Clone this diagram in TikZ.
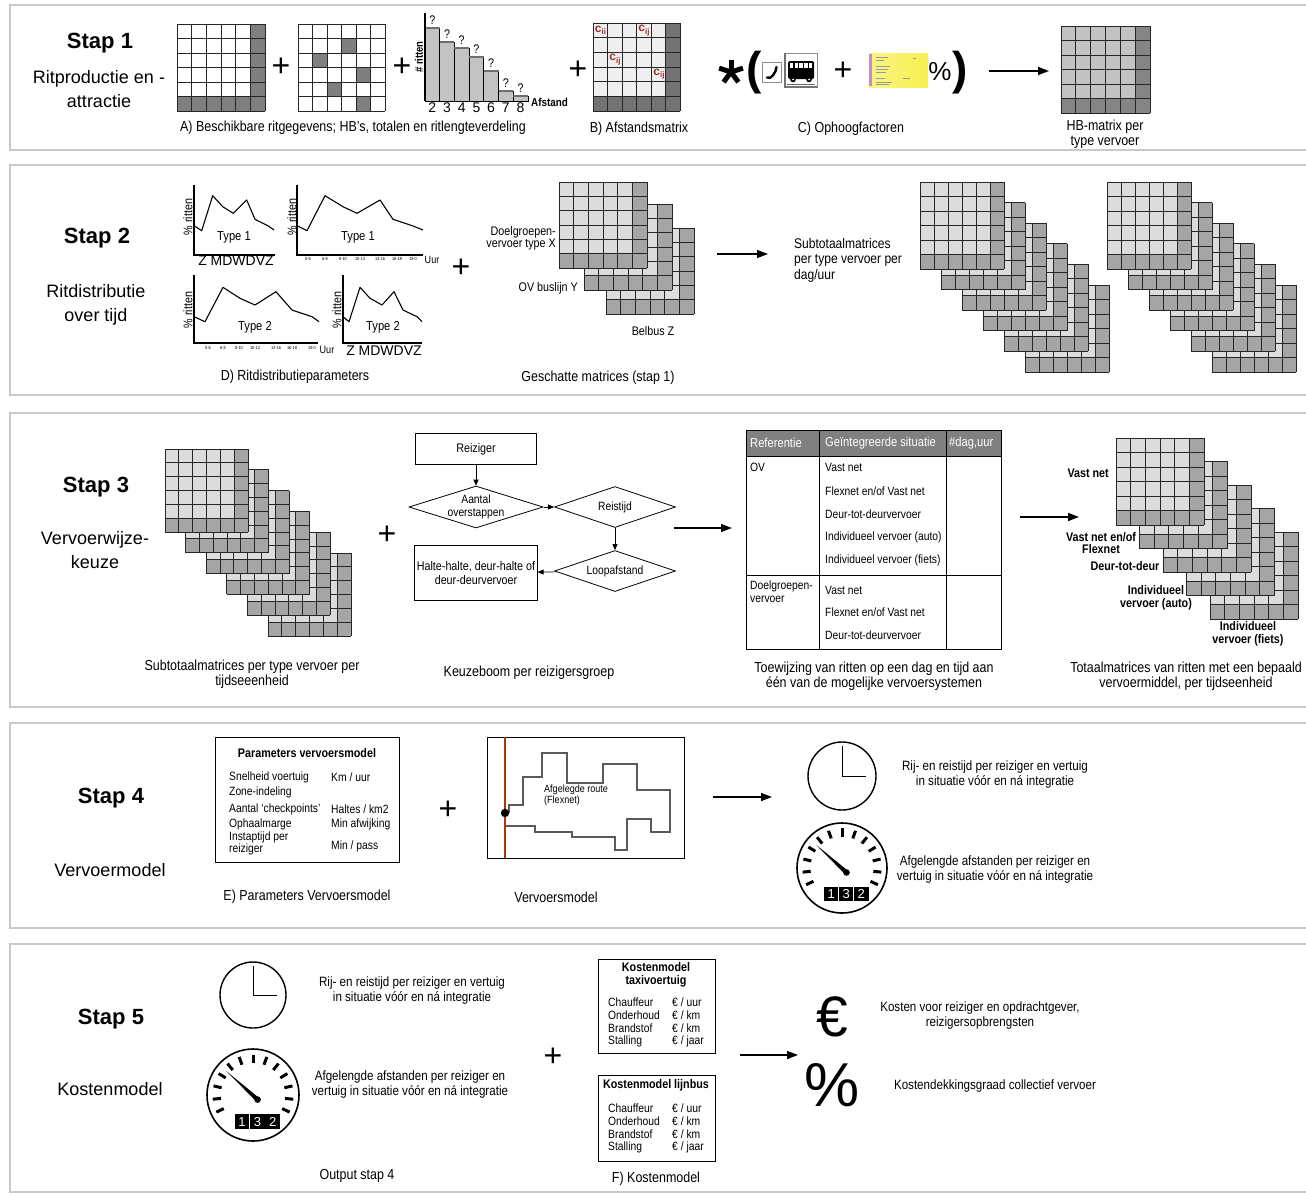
\documentclass[tikz,border=0pt]{standalone}
\usepackage{fontspec}
\setmainfont{Liberation Sans}
\newfontfamily\nar[FakeStretch=0.86]{Liberation Sans}
\usetikzlibrary{arrows.meta,shapes.geometric}

\newcommand\fsz[2]{\fontsize{#1}{#2}\selectfont}

\definecolor{framegray}{HTML}{C9C9C9}
\definecolor{celldark}{HTML}{7F7F7F}
\definecolor{celllight}{HTML}{DCDCDC}
\definecolor{cellmid}{HTML}{A5A5A5}
\definecolor{hbcell}{HTML}{C2C2C2}
\definecolor{hbdark}{HTML}{858585}
\definecolor{distcell}{HTML}{EFEFEF}
\definecolor{distdark}{HTML}{737373}
\definecolor{costred}{HTML}{A0302A}
\definecolor{barfill}{HTML}{C3C3C3}
\definecolor{barline}{HTML}{6E6E6E}
\definecolor{tablehead}{HTML}{808080}
\definecolor{routegray}{HTML}{5A5A5A}
\definecolor{railred}{HTML}{A8380E}
\definecolor{ticketyellow}{HTML}{F7F050}

\tikzset{
  panel/.style={draw=framegray, line width=1.5pt},
  stepname/.style={font=\fsz{22}{26}\bfseries, inner sep=0pt},
  stepsub/.style={font=\fsz{18}{23.5}, align=center, inner sep=0pt},
  capt/.style={font=\nar\fsz{14.5}{15.5}, align=center, inner sep=0pt},
  txt/.style={font=\nar\fsz{13.5}{15}, align=center, inner sep=0pt},
  small/.style={font=\nar\fsz{12}{13.5}, inner sep=0pt},
  tiny/.style={font=\nar\fsz{4.5}{5}, inner sep=0pt},
  plussign/.style={font=\fsz{32}{32}, inner sep=0pt},
  bigflow/.style={-{Triangle[length=11pt,width=8pt]}, line width=1.4pt},
  smallflow/.style={-{Triangle[length=6pt,width=5pt]}, line width=0.7pt},
  gridline/.style={draw=black!85, line width=1pt},
  axisline/.style={line width=1.3pt},
  trend/.style={line width=1.1pt, line join=round},
  flowbox/.style={draw, line width=0.8pt, minimum width=121pt, font=\nar\fsz{12.5}{14}, align=center, inner sep=2pt},
  flowdiamond/.style={draw, diamond, shape aspect=3.2, line width=0.8pt, minimum width=121pt, minimum height=41pt, font=\nar\fsz{12}{13}, align=center, inner sep=0pt},
  cellmark/.style={text=costred, font=\fsz{12}{12}\bfseries, inner sep=0pt},
  rowtxt/.style={font=\nar\fsz{12}{13}, anchor=west, inner sep=0pt},
  paramtxt/.style={font=\nar\fsz{12}{12.5}, anchor=west, inner sep=0pt},
  boldlab/.style={font=\nar\fsz{12.5}{12.5}\bfseries, align=center, inner sep=0pt},
}

% 6x6 trip matrix: x, y (top left), width, height, cell colour, margin colour
\newcommand\odmatrix[6]{%
  \fill[#5] (#1,#2) rectangle ++(#3,#4);
  \fill[#6] ({#1+5*#3/6},#2) rectangle ++({#3/6},#4);
  \fill[#6] (#1,{#2+5*#4/6}) rectangle ++(#3,{#4/6});
  \foreach \gk in {0,...,6}{%
    \draw[gridline] ({#1+\gk*#3/6},#2) -- ++(0,#4);
    \draw[gridline] (#1,{#2+\gk*#4/6}) -- ++(#3,0);
  }%
}

% clock: centre x, centre y, radius
\newcommand\clockface[3]{%
  \draw[line width=1.4pt] (#1,#2) circle[radius=#3];
  \draw[line width=1pt] (#1,{#2-0.88*#3}) -- (#1,#2) -- ({#1+0.72*#3},#2);
}

% speedometer with odometer: centre x, centre y, radius, name prefix
\newcommand\speedometer[4]{%
  \draw[line width=1.6pt] (#1,#2) circle[radius=#3];
  \foreach \a in {-25,-6,13,32,51,70,90,110,129,148,167,186,205}{%
    \draw[line width=3pt] ({#1+0.7*#3*cos(\a)},{#2-0.7*#3*sin(\a)}) -- ({#1+0.88*#3*cos(\a)},{#2-0.88*#3*sin(\a)});
  }%
  \fill ({#1+0.1*#3+1.5},{#2+0.1*#3-1.65}) -- ({#1+0.1*#3-1.5},{#2+0.1*#3+1.65}) -- ({#1-0.58*#3},{#2-0.52*#3}) -- cycle;
  \fill ({#1+0.1*#3},{#2+0.1*#3}) circle[radius=3.3];
  \foreach \i/\d in {0/1,1/3,2/2}{%
    \fill ({#1+0.1*#3-0.5*#3+\i*0.335*#3},{#2+0.42*#3}) rectangle ++({0.32*#3},{0.32*#3});
    \node[text=white, font=\fsz{13}{13}, inner sep=0pt] (#4\i) at ({#1+0.1*#3-0.5*#3+\i*0.335*#3+0.16*#3},{#2+0.58*#3}) {\d};
  }%
}

\begin{document}
\begin{tikzpicture}[x=1pt,y=-1pt]
\useasboundingbox (0,0) rectangle (1306,1194);
\fill[white] (0,0) rectangle (1306,1194);

% ---------- frames of the five steps ----------
\draw[panel] (10,5) rectangle (1330,150);
\draw[panel] (10,165) rectangle (1330,395);
\draw[panel] (10,413) rectangle (1330,707);
\draw[panel] (10,723) rectangle (1330,928);
\draw[panel] (10,944) rectangle (1330,1192);

% =============== Stap 1 ===============
\node[stepname] (s1) at (100,43) {Stap 1};
\node[stepsub] (s1t) at (99,89) {Ritproductie en -\\attractie};

\odmatrix{177}{24}{88}{87}{white}{celldark}
\node[plussign] (p11) at (281,67) {+};

\fill[white] (298,24) rectangle ++(87,87);
\foreach \cc/\rr in {3/1,1/2,4/3,2/4,4/5}
  \fill[celldark] ({298+\cc*14.5},{24+\rr*14.5}) rectangle ++(14.5,14.5);
\foreach \k in {0,...,6}{%
  \draw[gridline] ({298+\k*14.5},24) -- ++(0,87);
  \draw[gridline] (298,{24+\k*14.5}) -- ++(87,0);
}
\node[plussign] (p12) at (402,67) {+};

% trip length distribution
\foreach \i/\t/\l in {0/28/2,1/42/3,2/48/4,3/57/5,4/71/6,5/91/7,6/96/8}{%
  \filldraw[fill=barfill, draw=black, line width=0.8pt] ({425+\i*14.7},\t) rectangle ++(14.7,{101-\t});
  \draw[barline, line width=1.5pt] ({425+\i*14.7},\t) -- ++(14.7,0);
  \node[font=\nar\fsz{12.5}{12.5}, inner sep=0pt] (q\i) at ({432.3+\i*14.7},{\t-8}) {?};
  \node[font=\fsz{14}{14}, inner sep=0pt] (d\i) at ({432.3+\i*14.7},108) {\l};
}
\draw[axisline] (425,13) -- (425,101);
\node[rotate=90, font=\nar\fsz{11}{12}\bfseries, inner sep=0pt] (hy) at (419,57) {\# ritten};
\node[anchor=west, font=\nar\fsz{11.5}{12}\bfseries, inner sep=0pt] (hx) at (531,102) {Afstand};
\node[capt] (capA) at (353,128) {A) Beschikbare ritgegevens; HB’s, totalen en ritlengteverdeling};

\node[plussign] (p13) at (578,70) {+};

% distance matrix
\odmatrix{593}{23}{87}{88}{distcell}{distdark}
\node[cellmark] (c1) at (600.5,30.5) {c\raisebox{-2.5pt}{\fsz{8}{8}ii}};
\node[cellmark] (c2) at (644,30.5) {c\raisebox{-2.5pt}{\fsz{8}{8}ij}};
\node[cellmark] (c3) at (615,59.5) {c\raisebox{-2.5pt}{\fsz{8}{8}ij}};
\node[cellmark] (c4) at (659,74) {c\raisebox{-2.5pt}{\fsz{8}{8}ij}};
\node[capt] (capB) at (639,129) {B) Afstandsmatrix};

% growth factors
\foreach \ang in {90,162,234,306,18}
  \draw[line width=5pt] (731,72) -- ++({12.5*cos(\ang)},{-12.5*sin(\ang)});
\node[font=\fsz{46}{50}\bfseries, inner sep=0pt] (lpar) at (754,73) {(};
\draw[black!45, line width=0.6pt] (762,62) rectangle (781,82);
\draw[line width=2.4pt, line cap=round] (767,77.5) .. controls (770.5,80.5) and (776.5,72) .. (776.5,67);
\draw[black!45, line width=0.6pt] (784,53) rectangle (817,87);
\draw[black!55, line width=1.4pt] (785,53) -- (785,87) -- (817,87);
\fill[rounded corners=1.5pt] (788,61) rectangle (814,79);
\foreach \w in {0,...,4}
  \fill[white] ({790+\w*4.7},63) rectangle ++(3.4,4.5);
\fill (793,79.5) circle[radius=2.8];
\fill (809,79.5) circle[radius=2.8];
\fill[white] (793,79.5) circle[radius=1];
\fill[white] (809,79.5) circle[radius=1];
\draw[black!60, line width=0.6pt] (787,84) -- (815,84);
\node[plussign] (p14) at (843,71) {+};
\shade[left color=ticketyellow!70!white, right color=ticketyellow] (869,53) rectangle (928,87);
\fill[violet!45] (869,54) rectangle (871.5,86);
\foreach \yy/\ln in {57/12,60/8,66/14,69/12,72/10,78/9,82/16,84/13}
  \draw[black!40, line width=0.5pt] (876,\yy) -- ++(\ln,0);
\draw[black!40, line width=0.5pt] (913,58) -- (916,58);
\draw[black!40, line width=0.5pt] (903,78) -- (910,78);
\node[font=\fsz{26}{28}, inner sep=0pt] (pct1) at (940,72) {\%};
\node[font=\fsz{46}{50}\bfseries, inner sep=0pt] (rpar) at (960,73) {)};
\node[capt] (capC) at (851,129) {C) Ophoogfactoren};

\coordinate (a1s) at (989,71);
\coordinate (a1e) at (1049,71);
\draw[bigflow] (a1s) -- (a1e);

\odmatrix{1061}{26}{89}{87}{hbcell}{hbdark}
\node[capt] (capHB) at (1105,134) {HB-matrix per\\type vervoer};

% =============== Stap 2 ===============
\node[stepname] (s2) at (97,238) {Stap 2};
\node[stepsub] (s2t) at (96,305) {Ritdistributie\\over tijd};

% distribution over the week and over the day
\draw[axisline] (194,185) -- (194,255) -- (275,255);
\draw[trend] (194,225.7) -- (201.7,230.7) -- (212.7,195.7) -- (222.7,206.7) -- (233.3,213.3) -- (246.7,200) -- (255,219.3) -- (268.3,226) -- (274,230);
\node[rotate=90, font=\nar\fsz{12.5}{12}, inner sep=0pt] (g1y) at (188,217) {\% ritten};
\node[font=\nar\fsz{13}{12}, inner sep=0pt] (g1t) at (234,237) {Type 1};
\node[font=\fsz{14}{14}, inner sep=0pt] (g1x) at (236,261) {Z MDWDVZ};

\draw[axisline] (297,185) -- (297,255) -- (423,255);
\draw[trend] (297,225.7) -- (307,230.7) -- (325,195.7) -- (343,206.7) -- (357,213.3) -- (380,200) -- (393,219.3) -- (413,226) -- (423,230);
\node[rotate=90, font=\nar\fsz{12.5}{12}, inner sep=0pt] (g2y) at (292,217) {\% ritten};
\node[font=\nar\fsz{13}{12}, inner sep=0pt] (g2t) at (358,237) {Type 1};
\foreach \xx/\hh [count=\n] in {308/0-6,325/6-8,343/8-10,360/10-13,380/13-16,397/16-18,413/18-0}
  \node[tiny] (g2h\n) at (\xx,259) {\hh};
\node[font=\nar\fsz{10.5}{10}, inner sep=0pt] (g2u) at (432,260) {Uur};

\draw[axisline] (194,275) -- (194,343) -- (318,343);
\draw[trend] (194,316.7) -- (205,321.7) -- (223,287.3) -- (240,298.3) -- (255,305) -- (276,291.7) -- (292,310) -- (312,316.7) -- (319,321.7);
\node[rotate=90, font=\nar\fsz{12.5}{12}, inner sep=0pt] (g3y) at (188,310) {\% ritten};
\node[font=\nar\fsz{13}{12}, inner sep=0pt] (g3t) at (255,327) {Type 2};
\foreach \xx/\hh [count=\n] in {208/0-6,223/6-8,239/8-10,255/10-13,276/13-16,292/16-18,312/18-0}
  \node[tiny] (g3h\n) at (\xx,348) {\hh};
\node[font=\nar\fsz{10.5}{10}, inner sep=0pt] (g3u) at (327,350) {Uur};

\draw[axisline] (343,275) -- (343,343) -- (422,343);
\draw[trend] (343,316.7) -- (349,321.7) -- (360,287.3) -- (370,298.3) -- (382,305) -- (394,291.7) -- (403,310) -- (417,316.7) -- (422,321.7);
\node[rotate=90, font=\nar\fsz{12.5}{12}, inner sep=0pt] (g4y) at (337,310) {\% ritten};
\node[font=\nar\fsz{13}{12}, inner sep=0pt] (g4t) at (383,327) {Type 2};
\node[font=\fsz{14}{14}, inner sep=0pt] (g4x) at (384,351) {Z MDWDVZ};

\node[capt] (capD) at (295,377) {D) Ritdistributieparameters};

\node[plussign] (p21) at (461,268) {+};

% estimated matrices from step 1
\odmatrix{606}{228}{88}{86}{celllight}{cellmid}
\odmatrix{584}{204}{88}{86}{celllight}{cellmid}
\odmatrix{559}{182}{88}{86}{celllight}{cellmid}
\node[font=\nar\fsz{12.5}{12}, inner sep=0pt, anchor=east, align=right] (lx) at (556,238) {Doelgroepen-\\vervoer type X};
\node[font=\nar\fsz{12.5}{12}, inner sep=0pt, anchor=east] (ly) at (578,288) {OV buslijn Y};
\node[font=\nar\fsz{12.5}{12}, inner sep=0pt] (lz) at (653,331) {Belbus Z};
\node[capt] (capE2) at (598,378) {Geschatte matrices (stap 1)};

\coordinate (a2s) at (717,254);
\coordinate (a2e) at (768,254);
\draw[bigflow] (a2s) -- (a2e);
\node[txt, font=\nar\fsz{14}{15.5}, anchor=north west, align=left] (sub2) at (794,238) {Subtotaalmatrices\\per type vervoer per\\dag/uur};

% subtotal matrices per day and per hour
\foreach \sk in {5,4,...,0}{%
  \odmatrix{920+21*\sk}{182+20.6*\sk}{84}{87}{celllight}{cellmid}
}
\foreach \sk in {5,4,...,0}{%
  \odmatrix{1107+21*\sk}{182+20.6*\sk}{84}{87}{celllight}{cellmid}
}

% =============== Stap 3 ===============
\node[stepname] (s3) at (96,487) {Stap 3};
\node[stepsub] (s3t) at (95,550) {Vervoerwijze-\\keuze};

\foreach \sk in {5,4,...,0}{%
  \odmatrix{165+20.6*\sk}{449+20.8*\sk}{83}{83}{celllight}{cellmid}
}
\node[capt] (capS3a) at (252,674) {Subtotaalmatrices per type vervoer per\\tijdseeenheid};

\node[plussign] (p31) at (387,535) {+};

% choice tree per group of travellers
\node[flowbox, minimum height=31pt] (reiziger) at (476,449) {Reiziger};
\node[flowdiamond] (aantal) at (476,507) {Aantal\\overstappen};
\node[flowdiamond] (reistijd) at (615,507) {Reistijd};
\node[flowdiamond] (loop) at (615,571) {Loopafstand};
\node[flowbox, minimum height=55pt] (halte) at (476,573) {Halte-halte, deur-halte of\\deur-deurvervoer};
\draw[smallflow] (reiziger) -- (aantal);
\draw[smallflow] (aantal) -- (reistijd);
\draw[smallflow] (reistijd) -- (loop);
\draw[smallflow] (loop) -- (halte);
\node[capt] (capS3b) at (529,673) {Keuzeboom per reizigersgroep};

\coordinate (a3s) at (674,528);
\coordinate (a3e) at (732,528);
\draw[bigflow] (a3s) -- (a3e);

% assignment table
\fill[tablehead] (746,430) rectangle (1001,456);
\draw[line width=0.9pt] (746,430) rectangle (1001,649);
\draw[line width=0.9pt] (819,430) -- (819,649);
\draw[line width=0.9pt] (946,430) -- (946,649);
\draw[line width=0.9pt] (746,575) -- (1001,575);
\draw[line width=0.9pt] (746,456) -- (1001,456);
\node[rowtxt, font=\nar\fsz{13}{13}, text=white] (th1) at (750,443) {Referentie};
\node[rowtxt, font=\nar\fsz{13}{13}, text=white] (th2) at (825,443) {Geïntegreerde situatie};
\node[rowtxt, font=\nar\fsz{13}{13}, text=white] (th3) at (949,443) {\#dag,uur};
\node[rowtxt] (tov) at (750,467) {OV};
\node[rowtxt, anchor=north west, align=left] (tdg) at (750,581) {Doelgroepen-\\vervoer};
\node[rowtxt] (tr1) at (825,467) {Vast net};
\node[rowtxt] (tr2) at (825,491) {Flexnet en/of Vast net};
\node[rowtxt] (tr3) at (825,514) {Deur-tot-deurvervoer};
\node[rowtxt] (tr4) at (825,537) {Individueel vervoer (auto)};
\node[rowtxt] (tr5) at (825,560) {Individueel vervoer (fiets)};
\node[rowtxt] (tr6) at (825,590) {Vast net};
\node[rowtxt] (tr7) at (825,612) {Flexnet en/of Vast net};
\node[rowtxt] (tr8) at (825,635) {Deur-tot-deurvervoer};
\node[capt] (capS3c) at (874,676) {Toewijzing van ritten op een dag en tijd aan\\één van de mogelijke vervoersystemen};

\coordinate (a4s) at (1020,517);
\coordinate (a4e) at (1079,517);
\draw[bigflow] (a4s) -- (a4e);

% total matrices per mode
\foreach \sk in {4,3,...,0}{%
  \odmatrix{1116+23.5*\sk}{438+23.5*\sk}{88}{87}{celllight}{cellmid}
}
\node[boldlab, anchor=east] (m1) at (1109,473) {Vast net};
\node[boldlab] (m2) at (1101,543) {Vast net en/of\\Flexnet};
\node[boldlab] (m3) at (1125,566) {Deur-tot-deur};
\node[boldlab] (m4) at (1156,598) {Individueel\\vervoer (auto)};
\node[boldlab] (m5) at (1248,634) {Individueel\\vervoer (fiets)};
\node[capt] (capS3d) at (1186,676) {Totaalmatrices van ritten met een bepaald\\vervoermiddel, per tijdseenheid};

% =============== Stap 4 ===============
\node[stepname] (s4) at (111,798) {Stap 4};
\node[stepsub] (s4t) at (110,870) {Vervoermodel};

\draw[line width=1pt] (215,737) rectangle (399,862);
\node[font=\nar\fsz{12.5}{13}\bfseries, inner sep=0pt] (pt) at (307,753) {Parameters vervoersmodel};
\node[paramtxt] (pl1) at (229,777) {Snelheid voertuig};
\node[paramtxt] (pl2) at (229,792) {Zone-indeling};
\node[paramtxt] (pl3) at (229,809) {Aantal ‘checkpoints’};
\node[paramtxt] (pl4) at (229,824) {Ophaalmarge};
\node[paramtxt, align=left] (pl5) at (229,843.5) {Instaptijd per\\reiziger};
\node[paramtxt] (pr1) at (331,777) {Km / uur};
\node[paramtxt] (pr3) at (331,809) {Haltes / km2};
\node[paramtxt] (pr4) at (331,824) {Min afwijking};
\node[paramtxt] (pr5) at (331,846) {Min / pass};
\node[capt] (capE) at (307,897) {E) Parameters Vervoersmodel};

\node[plussign] (p41) at (448,810) {+};

% model area with the driven route
\draw[line width=1pt] (487,737) rectangle (684,858);
\draw[routegray, line width=1.2pt] (509,813) -- (509,805) -- (523,805) -- (523,777) -- (542,777) -- (542,753) -- (567,753) -- (567,783) -- (603,783) -- (603,764) -- (637,764) -- (637,790) -- (670,790) -- (670,832) -- (651,832) -- (651,819) -- (627,819) -- (627,850) -- (615,850) -- (615,837) -- (572,837) -- (572,832) -- (535,832) -- (535,826) -- (505,826);
\draw[railred, line width=1.6pt] (505,737) -- (505,858);
\fill (505,813) circle[radius=4.2];
\node[font=\nar\fsz{10.5}{11}, anchor=north west, align=left, inner sep=0pt] (route) at (544,785) {Afgelegde route\\(Flexnet)};
\node[capt] (capVM) at (556,897) {Vervoersmodel};

\coordinate (a5s) at (713,797);
\coordinate (a5e) at (772,797);
\draw[bigflow] (a5s) -- (a5e);

\clockface{842}{776}{34}
\node[txt] (o41) at (995,774.5) {Rij- en reistijd per reiziger en vertuig\\in situatie vóór en ná integratie};
\speedometer{842}{868}{45}{od4}
\node[txt] (o42) at (995,869.5) {Afgelengde afstanden per reiziger en\\vertuig in situatie vóór en ná integratie};

% =============== Stap 5 ===============
\node[stepname] (s5) at (111,1019) {Stap 5};
\node[stepsub] (s5t) at (110,1089) {Kostenmodel};

\clockface{253}{995}{33}
\node[txt] (o51) at (412,990.5) {Rij- en reistijd per reiziger en vertuig\\in situatie vóór en ná integratie};
\speedometer{253}{1095}{46}{od5}
\node[txt] (o52) at (410,1084.5) {Afgelengde afstanden per reiziger en\\vertuig in situatie vóór en ná integratie};
\node[capt] (capO) at (357,1176) {Output stap 4};

\node[plussign] (p51) at (553,1057) {+};

% cost models
\draw[line width=1pt] (598,959) rectangle (715,1053);
\node[font=\nar\fsz{12.5}{13}\bfseries, align=center, inner sep=0pt] (kt) at (656,975) {Kostenmodel\\taxivoertuig};
\draw[line width=1pt] (598,1075) rectangle (715,1161);
\node[font=\nar\fsz{12.5}{13}\bfseries, inner sep=0pt] (kl) at (656,1085) {Kostenmodel lijnbus};
\foreach \yy/\nm/\un [count=\n] in {1002/Chauffeur/uur,1015/Onderhoud/km,1028/Brandstof/km,1041/Stalling/jaar}{%
  \node[rowtxt] (ktl\n) at (608,\yy) {\nm};
  \node[rowtxt] (ktr\n) at (672,\yy) {€ / \un};
}
\foreach \yy/\nm/\un [count=\n] in {1108/Chauffeur/uur,1121/Onderhoud/km,1134/Brandstof/km,1147/Stalling/jaar}{%
  \node[rowtxt] (kll\n) at (608,\yy) {\nm};
  \node[rowtxt] (klr\n) at (672,\yy) {€ / \un};
}
\node[capt] (capF) at (656,1179) {F) Kostenmodel};

\coordinate (a6s) at (740,1055);
\coordinate (a6e) at (798,1055);
\draw[bigflow] (a6s) -- (a6e);

\node[font=\fsz{57}{57}, inner sep=0pt] (euro) at (832,1017) {€};
\node[txt] (r1) at (980,1015) {Kosten voor reiziger en opdrachtgever,\\reizigersopbrengsten};
\node[font=\fsz{62}{62}, inner sep=0pt] (pct) at (832,1085) {\%};
\node[txt] (r2) at (995,1086) {Kostendekkingsgraad collectief vervoer};

\end{tikzpicture}
\end{document}
